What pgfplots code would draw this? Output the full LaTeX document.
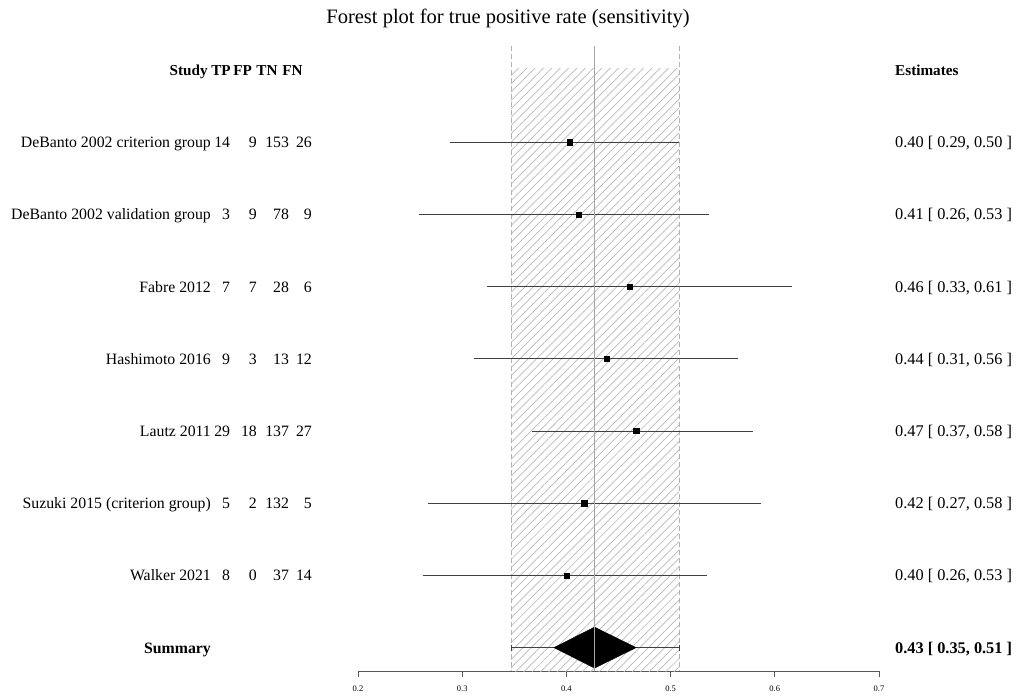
\documentclass[border=0pt]{standalone}
\usepackage{fontspec}
\setmainfont{Liberation Serif}
\usepackage{pgfplots}
\usepackage{pgfplotstable}
\pgfplotsset{compat=1.18}
\usetikzlibrary{patterns.meta}

\pgfplotstableread{
row x lo hi
1 0.403 0.291 0.505
2 0.412 0.261 0.534
3 0.461 0.327 0.614
4 0.439 0.314 0.562
5 0.467 0.370 0.576
6 0.417 0.270 0.584
7 0.400 0.265 0.532
}\studies

\newcommand{\bodyfont}{\fontsize{15.8}{18}\selectfont}
\newcommand{\estfont}{\fontsize{16.3}{18}\selectfont}
\newcommand{\headfont}{\fontsize{15.2}{18}\selectfont\bfseries}
\tikzset{
  txtE/.style={inner sep=0pt, anchor=base east, yshift=-5.5pt, font=\bodyfont},
  txtW/.style={inner sep=0pt, anchor=base west, yshift=-5.5pt, font=\estfont},
  txtC/.style={inner sep=0pt, anchor=base, yshift=-5.5pt, font=\bodyfont},
}
\newcommand{\studyrow}[7]{%
  \node[txtE] at (axis cs:0.0590,-#1) {#2};
  \node[txtE] at (axis cs:0.0775,-#1) {#3};
  \node[txtE] at (axis cs:0.1031,-#1) {#4};
  \node[txtE] at (axis cs:0.1340,-#1) {#5};
  \node[txtE] at (axis cs:0.1559,-#1) {#6};
  \node[txtW] at (axis cs:0.7154,-#1) {#7};
}

\begin{document}
\begin{tikzpicture}
\begin{axis}[
  scale only axis, width=521pt, height=671pt,
  xmin=0.2, xmax=0.7, ymin=-8.324, ymax=0.9695,
  clip=false,
  axis y line=none, axis x line*=bottom,
  x axis line style={-, black!65, line width=0.7pt},
  xtick={0.2,0.3,0.4,0.5,0.6,0.7},
  xticklabels={0.2,0.3,0.4,0.5,0.6,0.7},
  tick align=outside, major tick length=6pt,
  xtick style={black!65, line width=0.7pt},
  xticklabel style={font=\fontsize{8.5}{10}\selectfont, yshift=-5pt},
  /pgf/number format/assume math mode=true,
]
% hatched band (summary CI)
\addplot[draw=none, pattern={Lines[angle=45,distance=5.9pt,line width=0.7pt]}, pattern color=black!28]
  coordinates {(0.347,0.014) (0.508,0.014) (0.508,-8.324) (0.347,-8.324)} -- cycle;
\addplot[black!30, dash pattern=on 5pt off 3pt, line width=0.7pt] coordinates {(0.347,0.332) (0.347,-8.324)};
\addplot[black!30, dash pattern=on 5pt off 3pt, line width=0.7pt] coordinates {(0.508,0.332) (0.508,-8.324)};

% study estimates
\addplot[only marks, mark=square*, mark size=2.6pt, black,
  error bars/.cd, x dir=both, x explicit,
  error bar style={black!75, line width=0.7pt},
  error mark options={black!75, line width=0.7pt, mark size=3pt}]
  table[x=x, y expr=-\thisrow{row},
        x error plus expr=\thisrow{hi}-\thisrow{x},
        x error minus expr=\thisrow{x}-\thisrow{lo}] \studies;

% summary
\addplot[black!75, line width=0.7pt, mark=|, mark size=3pt] coordinates {(0.347,-8) (0.508,-8)};
\addplot[fill=black, draw=black] coordinates {(0.388,-8) (0.427,-7.716) (0.467,-8) (0.427,-8.284)} -- cycle;
\addplot[black!35, line width=0.7pt] coordinates {(0.427,0.332) (0.427,-8.324)};

% title
\node[font=\fontsize{20.5}{24}\selectfont] at (axis cs:0.344,0.720) {Forest plot for true positive rate (sensitivity)};

% header
\node[txtE, font=\headfont] at (axis cs:0.0560,0) {Study};
\node[txtC, font=\headfont] at (axis cs:0.0685,0) {TP};
\node[txtC, font=\headfont] at (axis cs:0.0892,0) {FP};
\node[txtC, font=\headfont] at (axis cs:0.1127,0) {TN};
\node[txtC, font=\headfont] at (axis cs:0.1372,0) {FN};
\node[txtW, font=\headfont] at (axis cs:0.7154,0) {Estimates};

\studyrow{1}{DeBanto 2002 criterion group}{14}{9}{153}{26}{0.40 [ 0.29, 0.50 ]}
\studyrow{2}{DeBanto 2002 validation group}{3}{9}{78}{9}{0.41 [ 0.26, 0.53 ]}
\studyrow{3}{Fabre 2012}{7}{7}{28}{6}{0.46 [ 0.33, 0.61 ]}
\studyrow{4}{Hashimoto 2016}{9}{3}{13}{12}{0.44 [ 0.31, 0.56 ]}
\studyrow{5}{Lautz 2011}{29}{18}{137}{27}{0.47 [ 0.37, 0.58 ]}
\studyrow{6}{Suzuki 2015 (criterion group)}{5}{2}{132}{5}{0.42 [ 0.27, 0.58 ]}
\studyrow{7}{Walker 2021}{8}{0}{37}{14}{0.40 [ 0.26, 0.53 ]}

\node[txtE, font=\bodyfont\bfseries] at (axis cs:0.0590,-8) {Summary};
\node[txtW, font=\estfont\bfseries] at (axis cs:0.7154,-8) {0.43 [ 0.35, 0.51 ]};

\coordinate (bbA) at (axis cs:-0.14357,0.9695);
\coordinate (bbB) at (axis cs:0.83148,-8.6565);
\end{axis}
\pgfresetboundingbox
\path[use as bounding box] (bbA) rectangle (bbB);
\end{tikzpicture}
\end{document}
